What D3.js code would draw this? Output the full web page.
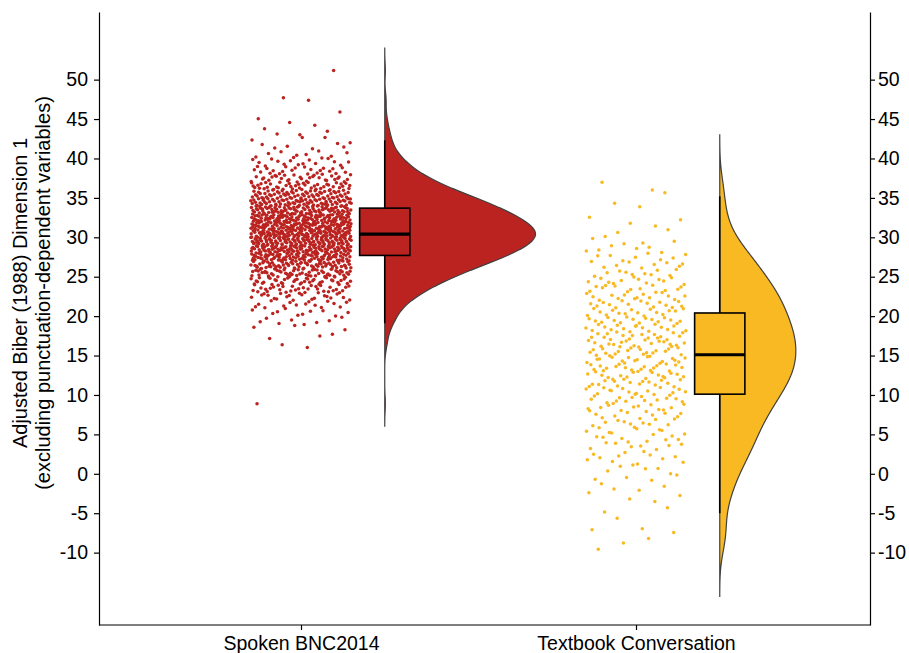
<!DOCTYPE html>
<html><head><meta charset="utf-8">
<script src="https://cdn.jsdelivr.net/npm/d3@7"></script>
<style>body{margin:0;background:#fff}svg{display:block}text{font-family:"Liberation Sans",Arial,sans-serif}</style>
</head><body><svg id="c" width="909" height="653"></svg>
<script>
// ---------- data ----------
const categories = ["Spoken BNC2014", "Textbook Conversation"];
const fillColors = ["#BA2320", "#F8B923"];
const yTicks = [-10, -5, 0, 5, 10, 15, 20, 25, 30, 35, 40, 45, 50];
const yTitleLines = ["Adjusted Biber (1988) Dimension 1", "(excluding punctuation-dependent variables)"];

// number of texts per 1-unit score bin (first bin starts at *BinStart)
const spokenBinStart = 8;
const spokenCounts = [1,0,0,0,0,0,0,0,2,3,4,7,10,15,22,31,43,56,70,85,98,106,110,105,96,85,72,57,43,31,22,15,10,6,5,3,2,2,0,2,0,0,0,1];
const textbookBinStart = -10;
const textbookCounts = [1,2,2,1,1,2,2,3,3,4,5,6,7,8,9,9,10,11,12,14,15,16,17,18,18,18,18,18,17,16,16,15,14,13,12,10,9,8,6,4,3,2,2,1,1,1,2];

// boxplot statistics
const boxLower  = [19.1, -5.0];
const boxQ1     = [27.7, 10.1];
const boxMedian = [30.4, 15.1];
const boxQ3     = [33.7, 20.4];
const boxUpper  = [42.3, 35.2];
const bandwidths = [0.95, 2.0];

// ---------- layout ----------
const svg = d3.select("#c");
const plotTop = 12, plotBottom = 625, plotLeft = 99, plotRight = 870;
const y = d3.scaleLinear().domain([-19.18, 58.58]).range([plotBottom, plotTop]);
const xCat = d3.scalePoint().domain(categories).range([301, 636]);
const unit = d3.scaleLinear().domain([0, 1]).range([0, 335]); // category spacing units

// low-discrepancy spread used as jitter inside each bin
function halton(i, b) { let f = 1, r = 0; while (i > 0) { f /= b; r += f * (i % b); i = Math.floor(i / b); } return r; }
function expand(start, counts, seed) {
  const vals = []; let g = seed;
  counts.forEach((c, i) => {
    for (let j = 0; j < c; j++) {
      g++;
      vals.push({v: start + i + halton(g, 3), jx: halton(g, 2) * 2 - 1});
    }
  });
  return vals;
}
const groups = [
  expand(spokenBinStart, spokenCounts, 7),
  expand(textbookBinStart, textbookCounts, 3)
];

// kernel density
function kde(vals, bw) {
  const mn = d3.min(vals), mx = d3.max(vals);
  const lo = mn - 3 * bw, hi = mx + 3 * bw;
  const n = 512, out = [];
  const k = 1 / (Math.sqrt(2 * Math.PI) * bw * vals.length);
  for (let i = 0; i < n; i++) {
    const t = lo + (hi - lo) * i / (n - 1);
    let s = 0;
    for (const v of vals) { const z = (t - v) / bw; s += Math.exp(-0.5 * z * z); }
    out.push([t, s * k]);
  }
  return out;
}
const dens = groups.map((g, i) => kde(g.map(d => d.v), bandwidths[i]));
const maxD = d3.max(dens, d => d3.max(d, e => e[1]));
const vw = d3.scaleLinear().domain([0, maxD]).range([0, unit(0.45)]);

const offset = unit(0.25), boxHalf = unit(0.075), jitterHalf = unit(0.15);

// points
categories.forEach((c, i) => {
  svg.append("g").selectAll("circle").data(groups[i]).join("circle")
    .attr("cx", d => xCat(c) + d.jx * jitterHalf)
    .attr("cy", d => y(d.v))
    .attr("r", 1.75)
    .attr("fill", fillColors[i]);
});

// violins
categories.forEach((c, i) => {
  const x0 = xCat(c) + offset;
  const area = d3.area()
    .y(d => y(d[0]))
    .x0(x0)
    .x1(d => x0 + vw(d[1]));
  svg.append("path").datum(dens[i]).attr("d", area)
    .attr("fill", fillColors[i]).attr("stroke", "#404040").attr("stroke-width", 1.2);
});

// boxplots
categories.forEach((c, i) => {
  const xc = xCat(c) + offset;
  const g = svg.append("g");
  g.append("line").attr("x1", xc).attr("x2", xc).attr("y1", y(boxQ3[i])).attr("y2", y(boxUpper[i]))
    .attr("stroke", "#000").attr("stroke-width", 1.6);
  g.append("line").attr("x1", xc).attr("x2", xc).attr("y1", y(boxQ1[i])).attr("y2", y(boxLower[i]))
    .attr("stroke", "#000").attr("stroke-width", 1.6);
  g.append("rect").attr("x", xc - boxHalf).attr("width", 2 * boxHalf)
    .attr("y", y(boxQ3[i])).attr("height", y(boxQ1[i]) - y(boxQ3[i]))
    .attr("fill", fillColors[i]).attr("stroke", "#000").attr("stroke-width", 1.6);
  g.append("line").attr("x1", xc - boxHalf).attr("x2", xc + boxHalf)
    .attr("y1", y(boxMedian[i])).attr("y2", y(boxMedian[i]))
    .attr("stroke", "#000").attr("stroke-width", 3.2);
});

// axes
const fmt = d => String(d);
const left = svg.append("g").attr("transform", `translate(${plotLeft},0)`)
  .call(d3.axisLeft(y).tickValues(yTicks).tickFormat(fmt).tickSize(5).tickSizeOuter(0).tickPadding(6));
const right = svg.append("g").attr("transform", `translate(${plotRight},0)`)
  .call(d3.axisRight(y).tickValues(yTicks).tickFormat(fmt).tickSize(5).tickSizeOuter(0).tickPadding(3));
const bottom = svg.append("g").attr("transform", `translate(0,${plotBottom})`)
  .call(d3.axisBottom(xCat).tickSize(5).tickSizeOuter(0).tickPadding(6));
bottom.select(".domain").remove();
svg.append("line").attr("x1", plotLeft).attr("x2", plotRight + 0.5).attr("y1", plotBottom).attr("y2", plotBottom)
  .attr("stroke", "#000").attr("stroke-width", 1.2);
[left, right, bottom].forEach(a => {
  a.selectAll("text").attr("font-size", 19.5).attr("fill", "#000").attr("font-family", "Liberation Sans, Arial, sans-serif");
  a.selectAll("line").attr("stroke", "#000").attr("stroke-width", 1.2);
  a.selectAll(".domain").attr("stroke", "#000").attr("stroke-width", 1.2);
});

// y title
const tcy = 293;
yTitleLines.forEach((t, i) => {
  svg.append("text")
    .attr("transform", `translate(${27 + i * 23},${tcy}) rotate(-90)`)
    .attr("text-anchor", "middle")
    .attr("font-size", 20).attr("fill", "#000")
    .text(t);
});
</script></body></html>
